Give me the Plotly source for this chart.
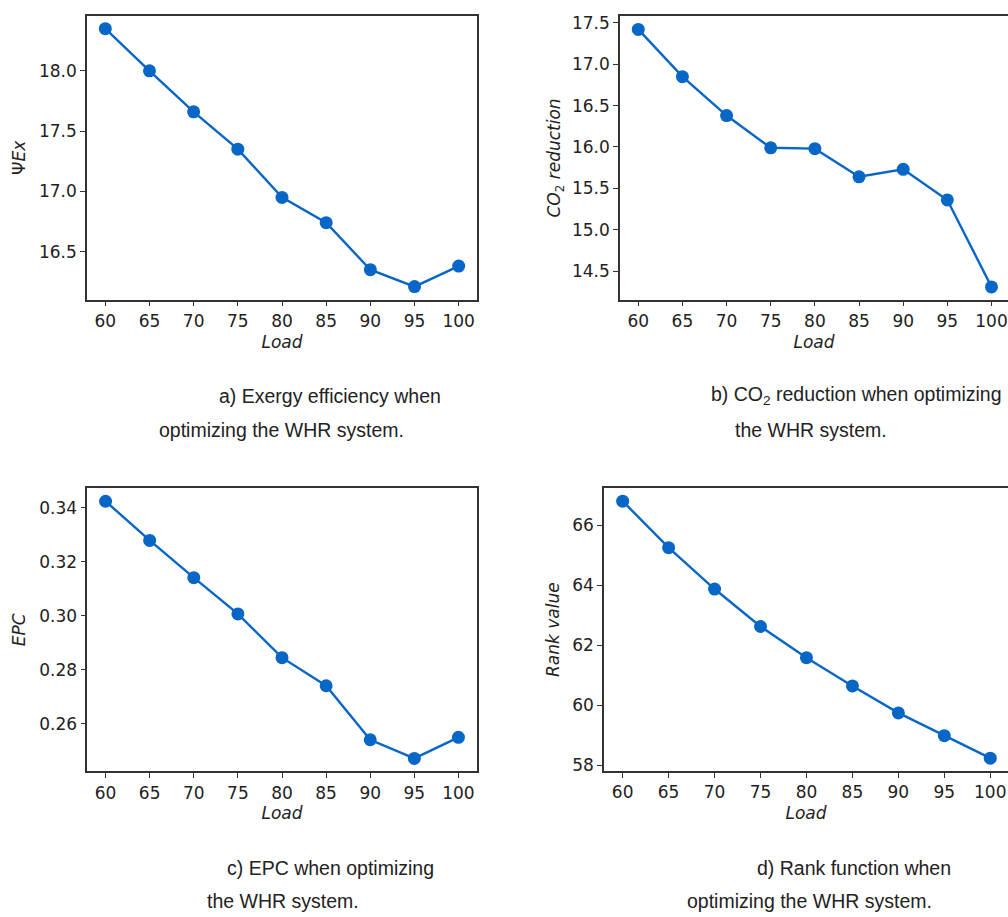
import plotly.graph_objects as go

W, H = 1008, 917

load = [60, 65, 70, 75, 80, 85, 90, 95, 100]
exergy_eff = [18.35, 18.00, 17.66, 17.35, 16.95, 16.74, 16.35, 16.21, 16.38]
co2_red = [17.42, 16.85, 16.38, 15.99, 15.98, 15.64, 15.73, 15.36, 14.31]
epc = [0.3424, 0.3279, 0.3141, 0.3007, 0.2845, 0.2741, 0.2541, 0.2472, 0.2550]
rank_val = [66.80, 65.25, 63.87, 62.62, 61.58, 60.64, 59.74, 58.98, 58.23]

x_ticks = [60, 65, 70, 75, 80, 85, 90, 95, 100]
y_ticks_a = [16.5, 17.0, 17.5, 18.0]
y_ticks_b = [14.5, 15.0, 15.5, 16.0, 16.5, 17.0, 17.5]
y_ticks_c = [0.26, 0.28, 0.30, 0.32, 0.34]
y_ticks_d = [58, 60, 62, 64, 66]

y_titles = ["Ψ<i>Ex</i>", "<i>CO</i><sub>2</sub><i> reduction</i>", "<i>EPC</i>", "<i>Rank value</i>"]
captions = [
    ("a) Exergy efficiency when", 329.5, 396),
    ("optimizing the WHR system.", 281.5, 430),
    ("b) CO<sub>2</sub> reduction when optimizing", 856, 396),
    ("the WHR system.", 810.5, 430),
    ("c) EPC when optimizing", 330, 872),
    ("the WHR system.", 283, 905),
    ("d) Rank function when", 854, 872),
    ("optimizing the WHR system.", 809, 905),
]

BLUE = "#0766C6"
FRAME = "#333333"
TXT = "#222222"

# panel boxes in pixels: left, right, top, bottom
boxes = [(87, 477, 13, 299), (620, 1008, 13.3, 299), (87.3, 476.7, 489, 774.3), (604, 1008, 489, 774)]
xranges = [[57.93, 102.07], [57.93, 101.87], [57.93, 102.07], [57.97, 101.93]]
yranges = [[16.101, 18.456], [14.155, 17.58], [0.2424, 0.3472], [57.80, 67.23]]
series = [exergy_eff, co2_red, epc, rank_val]
yticks = [y_ticks_a, y_ticks_b, y_ticks_c, y_ticks_d]
ytickfmt = [".1f", ".1f", ".2f", "d"]
ystand = [9, 7, 9, 8]

fig = go.Figure()
xfont = dict(family="DejaVu Sans", size=17, color=TXT)
yfont = dict(family="DejaVu Sans", size=17, color=TXT)
tfont = dict(family="DejaVu Sans", size=17, color=TXT)

for i in range(4):
    n = "" if i == 0 else str(i + 1)
    fig.add_trace(go.Scatter(
        x=load, y=series[i], mode="lines+markers",
        line=dict(color=BLUE, width=2.4),
        marker=dict(color=BLUE, size=13),
        xaxis="x" + n, yaxis="y" + n, showlegend=False, cliponaxis=False,
    ))
    l, r, t, b = boxes[i]
    clipped = r >= W
    xa = dict(
        domain=[l / W, min(r / W, 1.0)], range=xranges[i], anchor="y" + n,
        tickmode="array", tickvals=x_ticks, ticks="outside", ticklen=5, tickwidth=1.3,
        tickcolor=FRAME, showline=True, linecolor=FRAME, linewidth=1.5, mirror=True,
        showgrid=False, zeroline=False, tickfont=xfont,
        title=dict(text="<i>Load</i>", font=tfont, standoff=6),
    )
    ya = dict(
        domain=[1 - b / H, 1 - t / H], range=yranges[i], anchor="x" + n,
        tickmode="array", tickvals=yticks[i], tickformat=ytickfmt[i],
        ticks="outside", ticklen=5, tickwidth=1.3, tickcolor=FRAME,
        showline=True, linecolor=FRAME, linewidth=1.5, mirror=(not clipped),
        showgrid=False, zeroline=False, tickfont=yfont,
        title=dict(text=y_titles[i], font=tfont, standoff=ystand[i]),
    )
    fig.update_layout(**{"xaxis" + n: xa, "yaxis" + n: ya})

for text, cx, cy in captions:
    fig.add_annotation(
        text=text, x=cx / W, y=1 - cy / H, xref="paper", yref="paper",
        xanchor="center", yanchor="middle", showarrow=False,
        font=dict(family="Liberation Sans", size=19.5, color=TXT),
    )

fig.update_layout(
    width=W, height=H, margin=dict(l=0, r=0, t=0, b=0),
    paper_bgcolor="white", plot_bgcolor="white",
)

fig.write_html("out.html")
